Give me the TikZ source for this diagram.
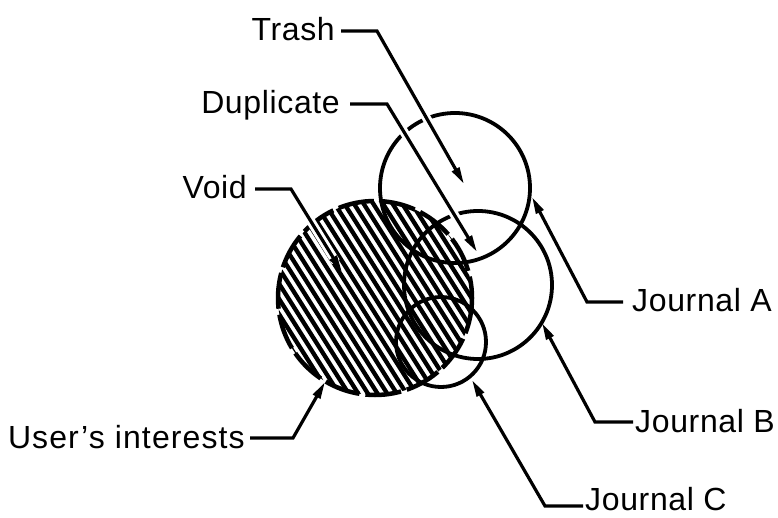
\documentclass[tikz,border=0pt]{standalone}
\usepackage{fontspec}
\setmainfont{Liberation Sans}[LetterSpace=2]
\usetikzlibrary{arrows.meta}
\begin{document}
\begin{tikzpicture}[x=1pt,y=-1pt,
  lbl/.style={font=\fontsize{32}{36}\selectfont, inner sep=0pt, text height=20pt, text depth=0pt},
  ring/.style={line width=3.8pt},
  userring/.style={line width=4.5pt, dash pattern=on 36pt off 6pt},
  hatchline/.style={line width=4.3pt},
  arr/.style={line width=3.2pt, -{Triangle[length=17pt,width=8pt]},
    preaction={draw=white, line width=9pt, -, shorten >=12pt}}]
\useasboundingbox (0,0) rectangle (778,518);

% hatching of the user's interests circle
\begin{scope}
  \clip (375,298) circle (97);
  \foreach \i in {-14,...,14}
    \draw[hatchline] ({375+\i*6.9-74},{298-\i*4.35-117}) -- ++(148,234);
\end{scope}

% journal circles
\draw[ring] (455,188) circle (75);
\draw[ring] (478,285) circle (74);
\draw[ring] (441,342) circle (45);
% user's interests outline
\draw[userring] (375,298) circle (97);

% labels
\node[lbl, anchor=base east] (trash) at (335,41) {Trash};
\node[lbl, anchor=base east] (dup) at (340,114) {Duplicate};
\node[lbl, anchor=base east] (void) at (247,199) {Void};
\node[lbl, anchor=base east] (user) at (245,448) {\addfontfeatures{LetterSpace=3.5}User's interests};
\node[lbl, anchor=base west] (ja) at (632,312) {Journal A};
\node[lbl, anchor=base west] (jb) at (635,432) {Journal B};
\node[lbl, anchor=base west] (jc) at (585,510) {Journal C};

% arrow tips
\coordinate (tT) at (464,184);
\coordinate (tD) at (477,252);
\coordinate (tV) at (342,272);
\coordinate (tU) at (325,382);
\coordinate (tA) at (532,197);
\coordinate (tB) at (542,323);
\coordinate (tC) at (472,380);

% connectors
\draw[arr] ([xshift=6pt]trash.east) -- ++(36,0) -- (tT);
\draw[arr] ([xshift=10pt]dup.east) -- ++(37,0) -- (tD);
\draw[arr] ([xshift=8pt]void.east) -- ++(36,0) -- (tV);
\draw[arr] ([xshift=5pt]user.east) -- ++(43,0) -- (tU);
\draw[arr] ([xshift=-9pt]ja.west) -- ++(-36,0) -- (tA);
\draw[arr] ([xshift=-2pt]jb.west) -- ++(-38,0) -- (tB);
\draw[arr] ([xshift=-2pt,yshift=-6pt]jc.west) -- ++(-38,0) -- (tC);
\end{tikzpicture}
\end{document}
